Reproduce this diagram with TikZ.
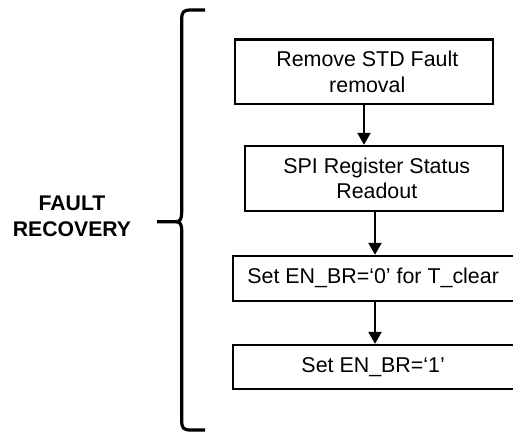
\documentclass[tikz,border=0pt]{standalone}
\usepackage{fontspec}
\setmainfont{Liberation Sans}
\usetikzlibrary{arrows.meta}
\begin{document}
\begin{tikzpicture}[x=1pt,y=-1pt,
  box/.style={draw=black,line width=2.3pt,inner sep=0pt,align=center,
    font=\fontsize{21.4}{25.7}\selectfont},
  flow/.style={draw=black,line width=2.3pt,-{Triangle[width=13pt,length=12pt]}},
  brace/.style={draw=black,line width=3.2pt,line join=round}]
\clip (0,0) rectangle (513,433);
\fill[white] (0,0) rectangle (513,433);
\node[box,minimum width=257.7pt,minimum height=64.3pt] (b1) at (363.8,71.8)
  {\hspace*{7pt}Remove STD Fault\\\hspace*{7pt}removal};
\node[box,minimum width=257.7pt,minimum height=64.7pt] (b2) at (373.8,178.3)
  {\hspace*{6pt}SPI Register Status\\\hspace*{6pt}Readout};
\node[box,minimum width=300pt,minimum height=44.7pt,anchor=west] (b3) at (232,278.3)
  {\hspace*{-20pt}Set EN\_BR=‘0’ for T\_clear};
\node[box,minimum width=300pt,minimum height=44pt,anchor=west] (b4) at (232,367)
  {\hspace*{-20pt}Set EN\_BR=‘1’};
\draw[flow] (b1.south -| 364,0) -- (b2.north -| 364,0);
\draw[flow] (b2.south -| 375,0) -- (b3.north -| 375,0);
\draw[flow] (b3.south -| 375,0) -- (b4.north -| 375,0);
\node[font=\bfseries\fontsize{21.2}{26}\selectfont,align=center,inner sep=0pt] (lbl) at (72,216) {FAULT\\RECOVERY};
\coordinate (tip) at (157,221.7);
\draw[brace] (205,10) -- (191,10) .. controls (183,10) and (181.7,12) .. (181.7,20)
  -- (181.7,212) .. controls (181.7,219) and (180,221.7) .. (176,221.7) -- (tip);
\draw[brace] (176,221.7) .. controls (180,221.7) and (181.7,224) .. (181.7,231)
  -- (181.7,420) .. controls (181.7,428) and (183,430) .. (191,430) -- (205,430);
\end{tikzpicture}
\end{document}
